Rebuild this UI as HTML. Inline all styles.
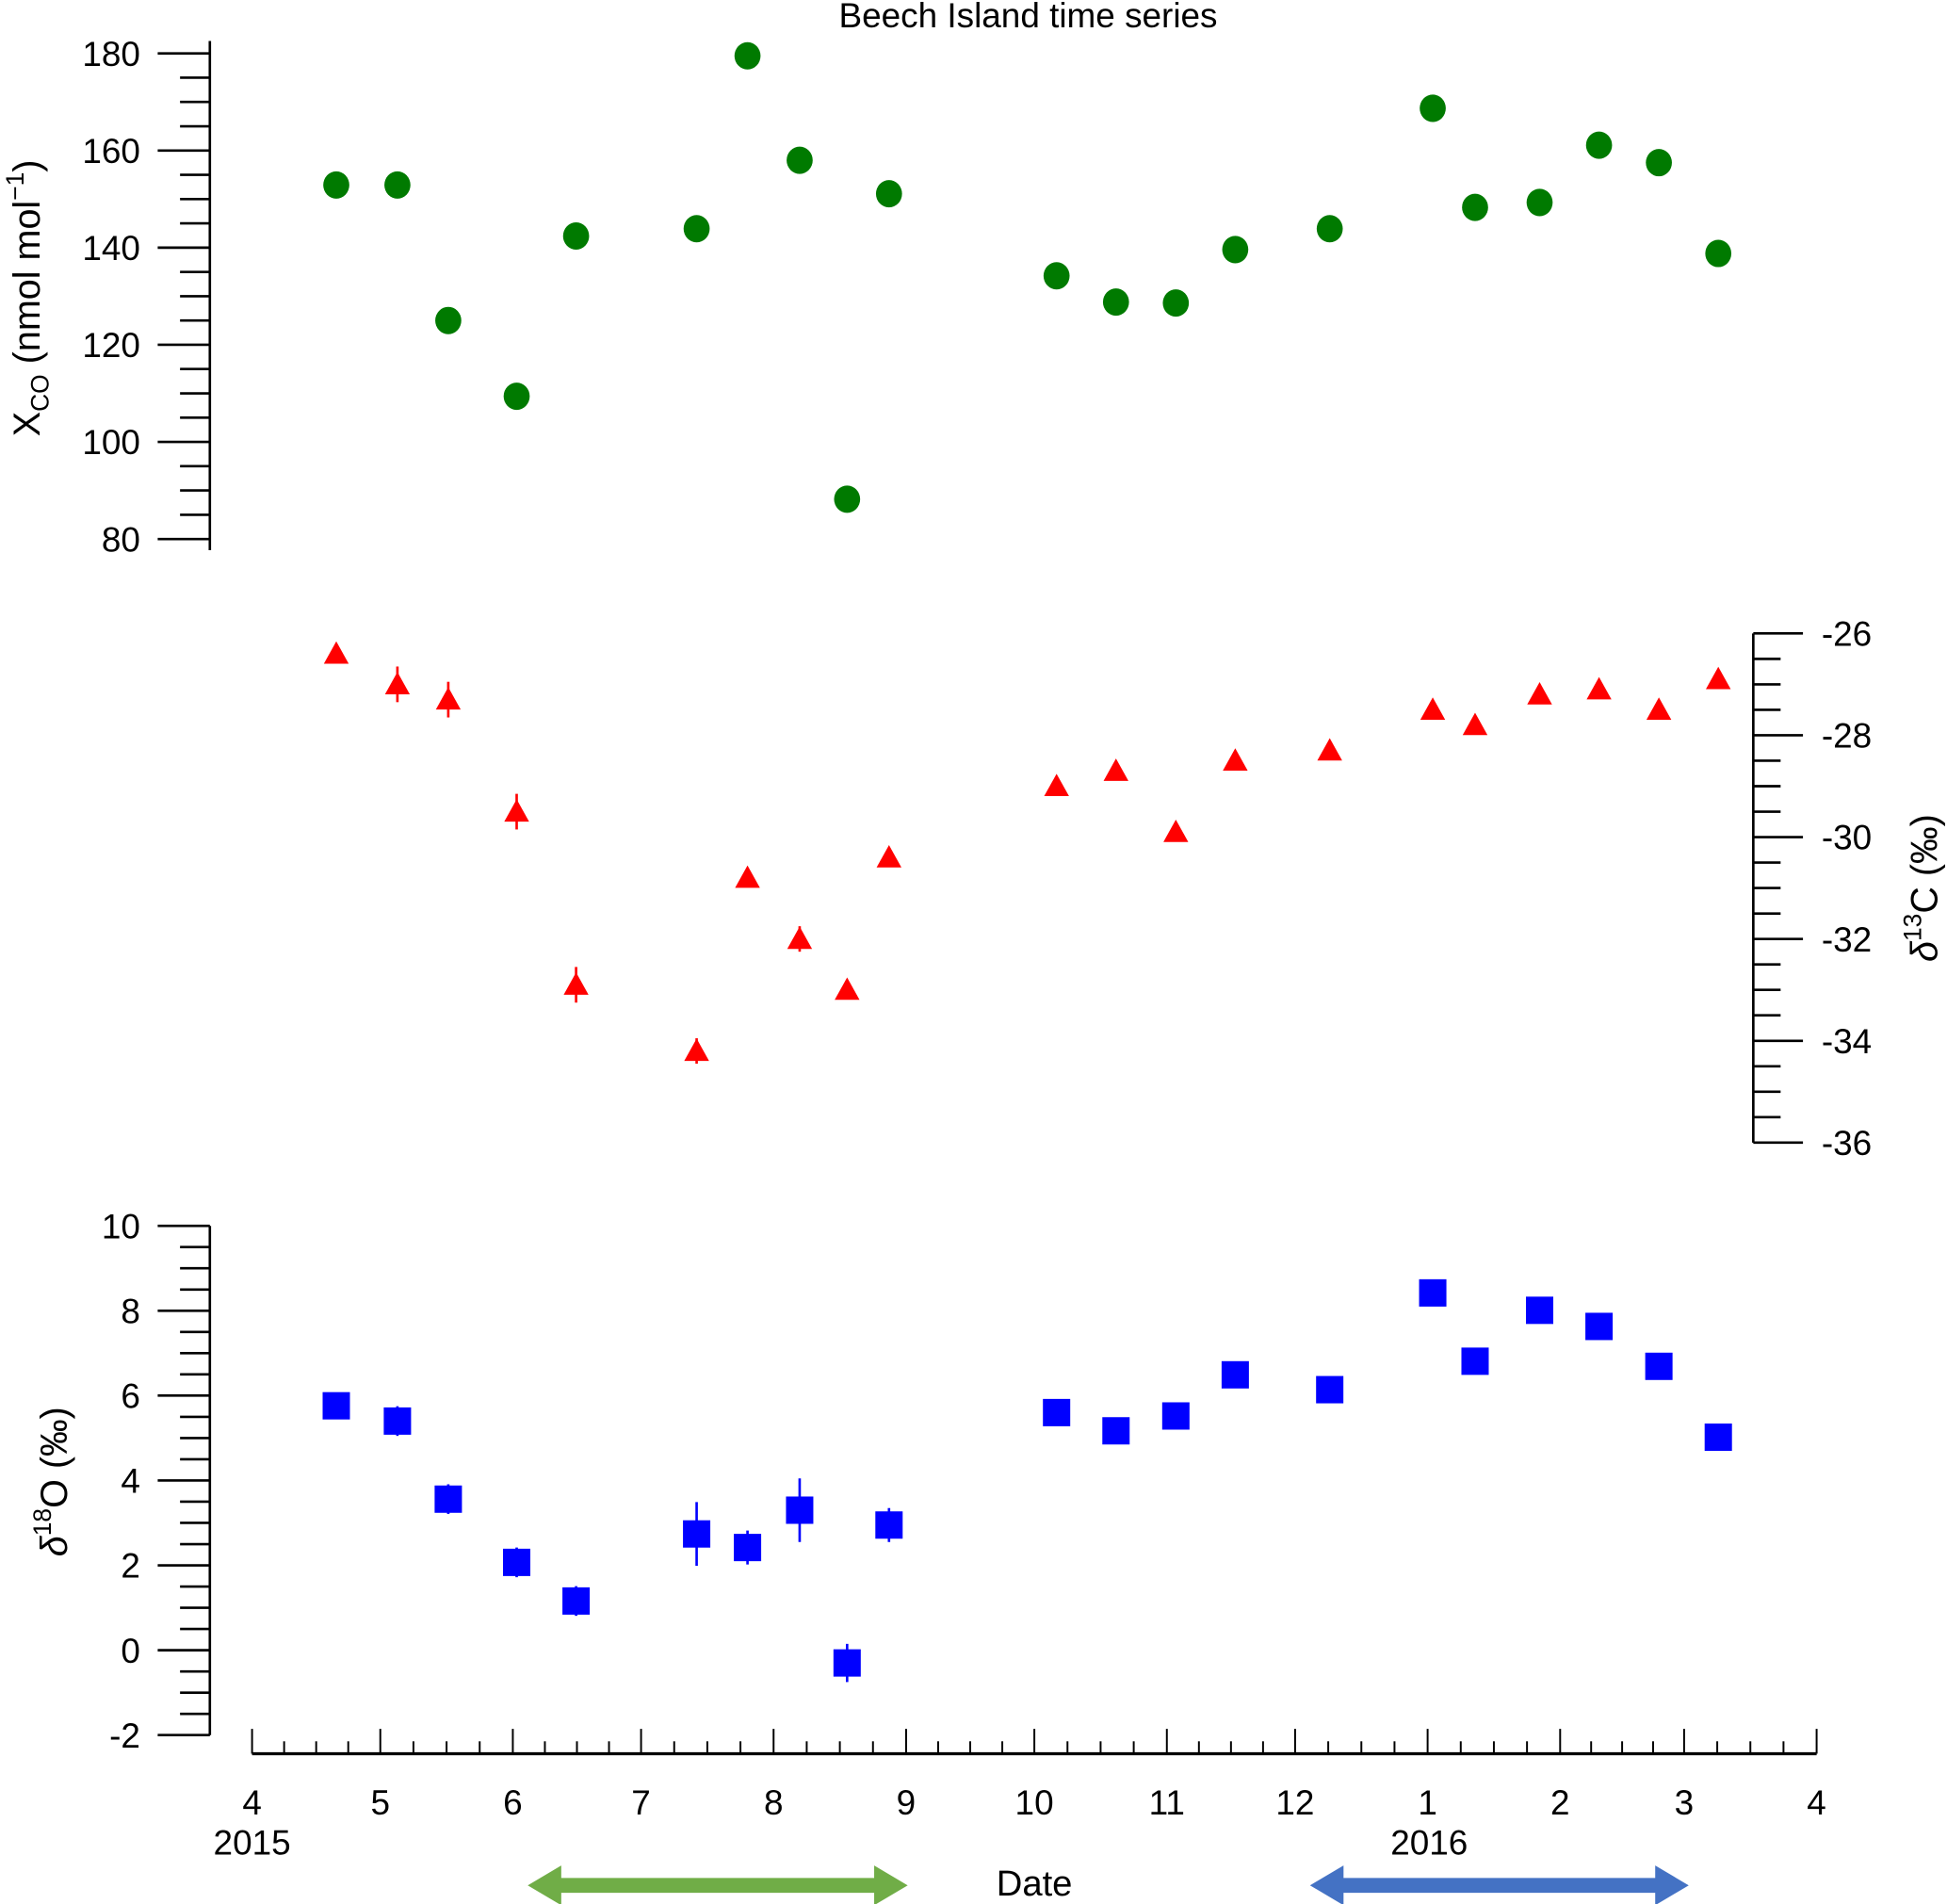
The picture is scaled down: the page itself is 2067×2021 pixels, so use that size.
<!DOCTYPE html>
<html><head><meta charset="utf-8"><style>html,body{margin:0;padding:0;background:#fff}svg{display:block}text{font-family:"Liberation Sans",sans-serif;fill:#000}</style></head>
<body>
<svg id="chart" width="2067" height="2021" viewBox="0 0 1568 1533" preserveAspectRatio="none" xmlns="http://www.w3.org/2000/svg">
<text x="828" y="22" font-size="28" text-anchor="middle">Beech Island time series</text>
<g id="axes"></g><g id="marks"></g>
<text transform="translate(32,240) rotate(-90)" font-size="30" text-anchor="middle">X<tspan font-size="20" dy="7">CO</tspan><tspan dy="-7"> (nmol mol</tspan><tspan font-size="20" dy="-13">−1</tspan><tspan dy="13">)</tspan></text>
<text transform="translate(1560,715) rotate(-90)" font-size="30" text-anchor="middle"><tspan font-style="italic">δ</tspan><tspan font-size="20" dy="-13">13</tspan><tspan dy="13">C (‰)</tspan></text>
<text transform="translate(54,1193) rotate(-90)" font-size="30" text-anchor="middle"><tspan font-style="italic">δ</tspan><tspan font-size="20" dy="-13">18</tspan><tspan dy="13">O (‰)</tspan></text>
<text x="833" y="1526" font-size="29" text-anchor="middle">Date</text>
<text x="203" y="1493" font-size="28" text-anchor="middle">2015</text>
<text x="1151" y="1493" font-size="28" text-anchor="middle">2016</text>
<path d="M425,1518 L452,1502 L452,1512 L704,1512 L704,1502 L731,1518 L704,1534 L704,1524 L452,1524 L452,1534 Z" fill="#70ad47"/>
<path d="M1055,1518 L1082,1502 L1082,1512 L1333,1512 L1333,1502 L1360,1518 L1333,1534 L1333,1524 L1082,1524 L1082,1534 Z" fill="#4472c4"/>
</svg>
<script>
const days = [19.7,34,45.9,61.9,75.8,104,115.9,128.1,139.2,149,188.2,202.1,216.1,230,252.1,276.2,286.1,301.2,315.1,329.1,343];
const coValues = [152.9,152.9,125,109.4,142.4,143.9,179.5,158,88.2,151.1,134.2,128.8,128.6,139.6,143.9,168.7,148.3,149.3,161.1,157.5,138.8];
const d13cValues = [-26.4,-27.0,-27.3,-29.5,-32.9,-34.2,-30.8,-32.0,-33.0,-30.4,-29.0,-28.7,-29.9,-28.5,-28.3,-27.5,-27.8,-27.2,-27.1,-27.5,-26.9];
const d13cErrors = [0.15,0.35,0.35,0.35,0.35,0.25,0.15,0.25,0.15,0.1,0.15,0.15,0.15,0.15,0.15,0.1,0.15,0.1,0.15,0.1,0.1];
const d18oValues = [5.76,5.4,3.56,2.07,1.16,2.74,2.42,3.3,-0.3,2.95,5.6,5.17,5.52,6.49,6.14,8.42,6.81,8.01,7.63,6.69,5.02];
const d18oErrors = [0.15,0.35,0.35,0.35,0.35,0.75,0.4,0.75,0.45,0.4,0.15,0.1,0.1,0.1,0.1,0.1,0.1,0.1,0.1,0.1,0.1];
const monthLabels = ['4','5','6','7','8','9','10','11','12','1','2','3','4'];
const monthStartDays = [0,30,61,91,122,153,183,214,244,275,306,335,366];
const coTicks = [80,100,120,140,160,180];
const d13cTicks = [-36,-34,-32,-30,-28,-26];
const d18oTicks = [-2,0,2,4,6,8,10];

const NS='http://www.w3.org/2000/svg';
const X = d => 203 + d*(1260/366);
const Yco = v => 43 + (180-v)*(391/100);
const Y13 = v => 510 + (-26-v)*41;
const Y18 = v => 987 + (10-v)*(410/12);
const axes=document.getElementById('axes'), marks=document.getElementById('marks');
function el(tag, attrs, parent){const e=document.createElementNS(NS,tag);for(const k in attrs)e.setAttribute(k,attrs[k]);parent.appendChild(e);return e;}

let a=el('line',{x1:169,y1:33,x2:169,y2:443,stroke:'#000','stroke-width':2},axes);


for(let v=80; v<=180; v+=5){const major=v%20===0;
 el('line',{x1:major?127:145,x2:169,y1:Yco(v),y2:Yco(v),stroke:'#000','stroke-width':2},axes);}
coTicks.forEach(v=>{const t=el('text',{x:113,y:Yco(v)+10,'font-size':28,'text-anchor':'end'},axes);t.textContent=v;
 
 });
a=el('line',{x1:1412,y1:510,x2:1412,y2:920,stroke:'#000','stroke-width':2},axes);


for(let i=0;i<=20;i++){const v=-26-i*0.5;const major=i%4===0;
 el('line',{x1:1412,x2:major?1452:1434,y1:Y13(v),y2:Y13(v),stroke:'#000','stroke-width':2},axes);}
d13cTicks.forEach(v=>{const t=el('text',{x:1467,y:Y13(v)+10,'font-size':28},axes);t.textContent=v;
 
 });
a=el('line',{x1:169,y1:987,x2:169,y2:1397,stroke:'#000','stroke-width':2},axes);


for(let i=0;i<=24;i++){const v=10-i*0.5;const major=i%4===0;
 el('line',{x1:major?127:145,x2:169,y1:Y18(v),y2:Y18(v),stroke:'#000','stroke-width':2},axes);}
d18oTicks.forEach(v=>{const t=el('text',{x:113,y:Y18(v)+10,'font-size':28,'text-anchor':'end'},axes);t.textContent=v;
 
 });
a=el('line',{x1:203,y1:1412,x2:1463,y2:1412,stroke:'#000','stroke-width':2.5},axes);


monthStartDays.forEach((d,i)=>{
 el('line',{x1:X(d),x2:X(d),y1:1392,y2:1412,stroke:'#000','stroke-width':1.5},axes);
 if(i<monthStartDays.length-1){const n=monthStartDays[i+1]-d;for(let k=1;k<4;k++){const xx=X(d+n*k/4);el('line',{x1:xx,x2:xx,y1:1402,y2:1412,stroke:'#000','stroke-width':1.5},axes);}}
 const t=el('text',{x:X(d),y:1461,'font-size':28,'text-anchor':'middle'},axes);t.textContent=monthLabels[i];
 
 
});
days.forEach((d,i)=>{
 const x=X(d);
 let c=el('ellipse',{cx:x,cy:Yco(coValues[i]),rx:10.5,ry:11,fill:'#007a00'},marks);
 
 
 const y13=Y13(d13cValues[i]), e13=d13cErrors[i]*41;
 el('line',{x1:x,x2:x,y1:y13-e13,y2:y13+e13,stroke:'#f00','stroke-width':2},marks);
 let tr=el('polygon',{points:`${x},${y13-10} ${x+10},${y13+8} ${x-10},${y13+8}`,fill:'#f00'},marks);
 
 
 const y18=Y18(d18oValues[i]), e18=d18oErrors[i]*410/12;
 el('line',{x1:x,x2:x,y1:y18-e18,y2:y18+e18,stroke:'#00f','stroke-width':2},marks);
 let sq=el('rect',{x:x-11,y:y18-11,width:22,height:22,fill:'#00f'},marks);
 
 
});
</script>
</body></html>
